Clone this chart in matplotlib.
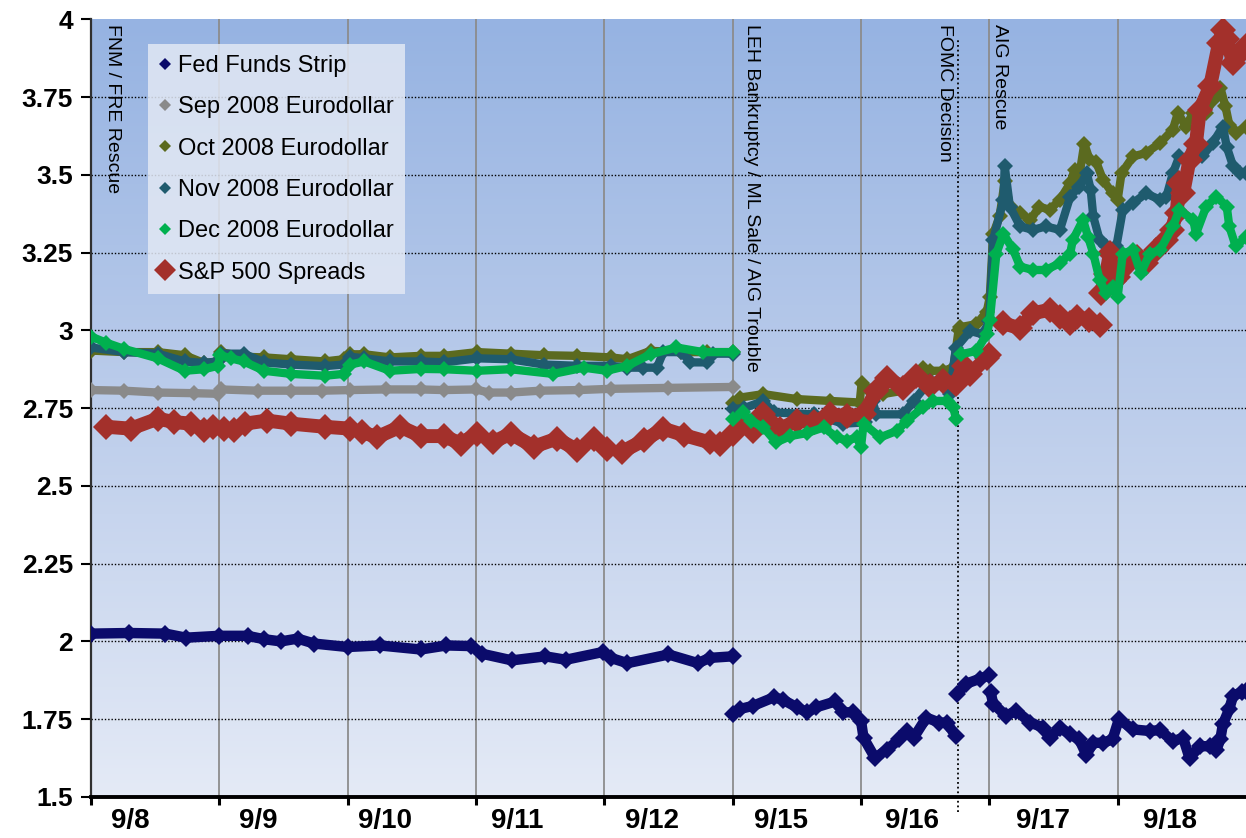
import numpy as np
import matplotlib
matplotlib.use("Agg")
import matplotlib.pyplot as plt
from matplotlib.colors import LinearSegmentedColormap
from matplotlib.lines import Line2D

nan = np.nan

# ---------------- data (x in trading days from 9/8 open) ----------------
day_labels = ["9/8", "9/9", "9/10", "9/11", "9/12", "9/15", "9/16", "9/17", "9/18"]
label_pos = [0.31, 1.30, 2.29, 3.32, 4.37, 5.38, 6.40, 7.42, 8.41]
y_ticks = [1.5, 1.75, 2.0, 2.25, 2.5, 2.75, 3.0, 3.25, 3.5, 3.75, 4.0]
y_tick_labels = ["1.5", "1.75", "2", "2.25", "2.5", "2.75", "3", "3.25", "3.5", "3.75", "4"]

ff_x = [0.0, 0.3, 0.58, 0.74, 1.0, 1.22, 1.35, 1.48, 1.61, 1.74, 2.0, 2.25, 2.57, 2.77, 2.96,
        3.05, 3.28, 3.54, 3.7, 3.99, 4.05, 4.18, 4.5, 4.73, 4.82, 5.0, nan,
        5.006, 5.06, 5.16, 5.32, 5.39, 5.50, 5.58, 5.65, 5.80, 5.86, 5.94, 6.0, 6.02, 6.11, 6.20,
        6.30, 6.356, 6.41, 6.51, 6.61, 6.667, 6.74, nan,
        6.75, 6.82, 6.926, 7.0, nan,
        7.01, 7.03, 7.13, 7.21, 7.32, 7.42, 7.47, 7.55, 7.63, 7.70, 7.756, 7.81, 7.886, 7.96,
        8.01, 8.12, 8.25, 8.33, 8.43, 8.51, 8.56, 8.64, 8.72, 8.77, 8.80, 8.82, 8.87, 8.90, 8.97, 9.0]
ff_y = [2.025, 2.027, 2.025, 2.012, 2.018, 2.018, 2.007, 2.0, 2.009, 1.993, 1.982, 1.987, 1.974, 1.987, 1.985,
        1.96, 1.939, 1.952, 1.941, 1.966, 1.947, 1.93, 1.958, 1.93, 1.947, 1.952, nan,
        1.766, 1.783, 1.793, 1.82, 1.813, 1.788, 1.772, 1.788, 1.807, 1.772, 1.772, 1.745, 1.69, 1.625, 1.652,
        1.685, 1.712, 1.69, 1.755, 1.739, 1.739, 1.696, nan,
        1.832, 1.864, 1.88, 1.891, nan,
        1.837, 1.80, 1.761, 1.777, 1.739, 1.723, 1.69, 1.723, 1.701, 1.685, 1.636, 1.674, 1.674, 1.685,
        1.75, 1.717, 1.712, 1.715, 1.679, 1.69, 1.625, 1.663, 1.663, 1.652, 1.685, 1.734, 1.783, 1.826, 1.837, 1.84]

sep_x = [0.0, 0.26, 0.52, 0.8, 0.99, 1.01, 1.3, 1.56, 1.8, 2.02, 2.3, 2.57, 2.75, 3.0, 3.1, 3.27,
         3.5, 3.8, 4.05, 4.5, 5.0]
sep_y = [2.808, 2.806, 2.80, 2.798, 2.796, 2.81, 2.806, 2.806, 2.806, 2.808, 2.81, 2.81, 2.808, 2.81, 2.80, 2.80,
         2.806, 2.808, 2.812, 2.815, 2.818]

oct_x = [0.0, 0.26, 0.52, 0.73, 0.88, 0.99, 1.01, 1.19, 1.35, 1.56, 1.82, 1.97, 2.02, 2.13, 2.33, 2.57,
         2.75, 3.01, 3.27, 3.53, 3.79, 4.05, 4.18, 4.36, 4.6, 4.8, 5.0, nan,
         5.0, 5.06, 5.24, 5.5, 5.76, 5.99, 6.005, 6.07, 6.17, 6.33, 6.48, 6.54, 6.64, 6.72, 6.76, 6.77,
         6.9, 6.98, 7.004, 7.03, 7.08, 7.12, 7.16, 7.24, 7.32, 7.39, 7.47, 7.55, 7.63, 7.665, 7.70, 7.74,
         7.78, 7.834, 7.886, 7.96, 8.0, 8.03, 8.12, 8.22, 8.33, 8.43, 8.47, 8.53, 8.59, 8.69, 8.74, 8.8,
         8.84, 8.87, 8.92, 9.0]
oct_y = [2.935, 2.93, 2.93, 2.92, 2.895, 2.90, 2.93, 2.915, 2.913, 2.907, 2.90, 2.907, 2.923, 2.923, 2.913, 2.918,
         2.918, 2.93, 2.925, 2.92, 2.918, 2.913, 2.907, 2.934, 2.93, 2.93, 2.93, nan,
         2.768, 2.784, 2.795, 2.779, 2.773, 2.768, 2.83, 2.806, 2.795, 2.806, 2.88, 2.87, 2.87, 2.88, 3.0, 3.01,
         3.02, 3.06, 3.108, 3.31, 3.366, 3.48, 3.40, 3.377, 3.355, 3.398, 3.387, 3.42, 3.473, 3.516, 3.494, 3.60,
         3.55, 3.54, 3.484, 3.44, 3.42, 3.505, 3.559, 3.57, 3.602, 3.645, 3.70, 3.655, 3.70, 3.70, 3.74, 3.78,
         3.72, 3.66, 3.634, 3.655]

nov_x = [0.0, 0.26, 0.52, 0.73, 0.88, 0.99, 1.01, 1.19, 1.35, 1.56, 1.82, 1.97, 2.02, 2.13, 2.33, 2.57,
         2.75, 3.01, 3.27, 3.53, 3.79, 4.05, 4.18, 4.3, 4.41, 4.46, 4.6, 4.67, 4.8, 4.85, 5.0, nan,
         5.0, 5.09, 5.24, 5.32, 5.63, 5.86, 6.03, 6.09, 6.12, 6.33, 6.41, 6.54, 6.64, 6.69, 6.74, 6.85,
         6.95, 7.0, 7.03, 7.11, 7.12, 7.16, 7.24, 7.34, 7.44, 7.55, 7.63, 7.70, 7.76, 7.79, 7.81, 7.86,
         7.91, 7.99, 8.04, 8.12, 8.22, 8.33, 8.38, 8.43, 8.48, 8.59, 8.66, 8.74, 8.82, 8.85, 8.90, 8.95, 9.0]
nov_y = [2.945, 2.93, 2.925, 2.90, 2.895, 2.90, 2.925, 2.925, 2.897, 2.89, 2.885, 2.89, 2.915, 2.91, 2.90, 2.90,
         2.897, 2.91, 2.907, 2.89, 2.886, 2.886, 2.88, 2.88, 2.88, 2.93, 2.93, 2.897, 2.897, 2.925, 2.925, nan,
         2.747, 2.75, 2.773, 2.736, 2.73, 2.70, 2.704, 2.773, 2.73, 2.73, 2.773, 2.838, 2.838, 2.795, 2.944, 2.998,
         2.987, 3.03, 3.29, 3.42, 3.527, 3.398, 3.334, 3.323, 3.334, 3.323, 3.43, 3.462, 3.505, 3.452, 3.366, 3.29,
         3.27, 3.27, 3.387, 3.409, 3.44, 3.42, 3.43, 3.505, 3.559, 3.548, 3.56, 3.602, 3.655, 3.59, 3.527, 3.505, 3.505]

dec_x = [0.0, 0.12, 0.26, 0.52, 0.73, 0.88, 0.99, 1.006, 1.09, 1.19, 1.35, 1.56, 1.82, 1.97, 2.02, 2.13,
         2.33, 2.57, 2.75, 3.01, 3.27, 3.6, 3.84, 4.02, 4.18, 4.36, 4.56, 4.77, 5.0, nan,
         5.0, 5.08, 5.14, 5.24, 5.34, 5.45, 5.58, 5.71, 5.81, 5.89, 5.97, 6.0, 6.02, 6.15, 6.28, 6.36,
         6.48, 6.56, 6.67, 6.72, 6.74, nan,
         6.78, 6.90, 6.98, 7.004, 7.055, 7.11, 7.185, 7.24, 7.34, 7.44, 7.55, 7.63, 7.65, 7.73, 7.77, 7.81,
         7.86, 7.91, 7.96, 8.0, 8.04, 8.12, 8.18, 8.25, 8.33, 8.43, 8.48, 8.59, 8.61, 8.69, 8.77, 8.85,
         8.87, 8.92, 9.0]
dec_y = [2.98, 2.96, 2.94, 2.91, 2.87, 2.875, 2.886, 2.92, 2.91, 2.90, 2.87, 2.86, 2.854, 2.86, 2.89, 2.90,
         2.87, 2.876, 2.875, 2.87, 2.875, 2.86, 2.88, 2.87, 2.886, 2.923, 2.945, 2.93, 2.93, nan,
         2.715, 2.736, 2.71, 2.688, 2.64, 2.66, 2.67, 2.688, 2.656, 2.645, 2.656, 2.624, 2.70, 2.656, 2.677, 2.71,
         2.752, 2.773, 2.773, 2.752, 2.715, nan,
         2.923, 2.934, 2.987, 3.033, 3.247, 3.31, 3.26, 3.205, 3.194, 3.194, 3.216, 3.247, 3.29, 3.355, 3.30, 3.247,
         3.162, 3.119, 3.14, 3.108, 3.247, 3.258, 3.183, 3.247, 3.258, 3.334, 3.387, 3.355, 3.31, 3.398, 3.43, 3.398,
         3.334, 3.27, 3.30]

spx_x = [0.117, 0.31, 0.52, 0.65, 0.78, 0.88, 0.95, 1.04, nan,
         1.115, 1.2, 1.37, 1.56, 1.82, 2.02, nan,
         2.11, 2.23, 2.41, 2.57, 2.75, 2.88, 3.01, nan,
         3.13, 3.27, 3.45, 3.63, 3.79, 3.92, 4.02, nan,
         4.14, 4.31, 4.46, 4.62, 4.82, 4.9, 5.0, 5.08, 5.16, 5.24, 5.37, 5.50, 5.63, 5.76, 5.89, 6.02,
         6.12, 6.20, 6.33, 6.43, 6.54, 6.64, 6.74, 6.80, 6.85, 6.98, 7.0, nan,
         7.11, 7.24, 7.34, 7.47, 7.55, 7.63, 7.68, 7.78, 7.86, nan,
         7.87, 7.91, 7.94, 7.97, 8.0, 8.15, 8.22, 8.30, 8.38, 8.42, 8.46, 8.48, 8.51, 8.56, 8.61, 8.64,
         8.72, 8.79, 8.82, 8.85, 8.90, 8.95, 9.0]
spx_y = [2.69, 2.684, 2.716, 2.705, 2.70, 2.68, 2.69, 2.684, nan,
         2.68, 2.70, 2.71, 2.70, 2.69, 2.684, nan,
         2.673, 2.657, 2.69, 2.66, 2.66, 2.636, 2.668, nan,
         2.64, 2.668, 2.626, 2.652, 2.615, 2.652, 2.62, nan,
         2.61, 2.647, 2.684, 2.663, 2.64, 2.635, 2.667, 2.71, 2.677, 2.73, 2.683, 2.71, 2.704, 2.73, 2.725, 2.73,
         2.806, 2.848, 2.816, 2.854, 2.82, 2.838, 2.828, 2.886, 2.86, 2.912, 2.92, nan,
         3.023, 3.006, 3.055, 3.066, 3.044, 3.023, 3.044, 3.033, 3.017, nan,
         3.12, 3.18, 3.248, 3.16, 3.17, 3.237, 3.216, 3.258, 3.29, 3.323, 3.377, 3.473, 3.44, 3.548, 3.60, 3.709,
         3.784, 3.924, 3.967, 3.935, 3.86, 3.89, 3.913]

series = [
    ("Fed Funds Strip", ff_x, ff_y, "#0b0b6b"),
    ("Sep 2008 Eurodollar", sep_x, sep_y, "#8a8a8a"),
    ("Oct 2008 Eurodollar", oct_x, oct_y, "#5b6a1f"),
    ("Nov 2008 Eurodollar", nov_x, nov_y, "#1f5b6e"),
    ("Dec 2008 Eurodollar", dec_x, dec_y, "#00b04f"),
    ("S&P 500 Spreads", spx_x, spx_y, "#a3302b"),
]

events = [
    (0.17, "FNM / FRE Rescue"),
    (5.15, "LEH Bankruptcy / ML Sale / AIG Trouble"),
    (6.65, "FOMC Decision"),
    (7.08, "AIG Rescue"),
]
fomc_x = 6.755

# ---------------- figure ----------------
plt.rcParams['font.family'] = ['Liberation Sans', 'DejaVu Sans']
fig = plt.figure(figsize=(12.46, 8.38), dpi=100)
ax = fig.add_axes([0.073, 0.049, 0.927, 0.928])
ax.set_xlim(0, 9)
ax.set_ylim(1.5, 4.0)

cmap = LinearSegmentedColormap.from_list("bg", ["#e4eaf6", "#bccdeb", "#96b3e2"])
grad = np.linspace(0, 1, 256).reshape(-1, 1)
ax.imshow(grad, extent=[0, 9, 1.5, 4.0], origin="lower", aspect="auto", cmap=cmap,
          zorder=0, interpolation="bicubic")

for d in range(1, 9):
    ax.axvline(d, color="#8c8c8c", lw=1.3, zorder=1)
for yv in y_ticks[1:-1]:
    ax.axhline(yv, color="black", lw=1.0, ls=(0, (1, 1.4)), zorder=1)
ax.plot([fomc_x, fomc_x], [1.452, 3.94], color="black", lw=1.3, ls=(0, (1, 1.6)),
        zorder=1, clip_on=False)

styles = {0: (7.5, 9.5), 1: (6.0, 8.0), 2: (6.0, 8.0), 3: (6.0, 8.0), 4: (6.0, 8.0), 5: (10.0, 13.0)}
draw_order = [1, 2, 3, 5, 4, 0]
for i in draw_order:
    name, xs, ys, col = series[i]
    lw, ms = styles[i]
    ax.plot(xs, ys, color=col, lw=lw, solid_capstyle="round",
            solid_joinstyle="round", zorder=3)
    ax.plot(xs, ys, ls="none", marker="D", ms=ms, mew=0, color=col, zorder=3)

for xe, txt in events:
    ax.text(xe, 3.985, txt, rotation=270, ha="center", va="top", fontsize=14,
            color="black", zorder=5)

handles = []
for i, (name, xs, ys, col) in enumerate(series):
    handles.append(Line2D([], [], ls="none", marker="D", color=col, mew=0,
                          ms=11 if i == 5 else 6, label=name))
leg = ax.legend(handles=handles, loc="upper left", bbox_to_anchor=(0.049, 0.968),
                borderaxespad=0, fontsize=17, frameon=True, fancybox=False,
                handlelength=0.6, handletextpad=0.25, labelspacing=0.82, borderpad=0.45)
leg.get_frame().set_facecolor("#e2e8f4")
leg.get_frame().set_alpha(0.85)
leg.get_frame().set_edgecolor("none")
leg.set_zorder(6)

# axes styling
for s in ["top", "right"]:
    ax.spines[s].set_visible(False)
ax.spines["bottom"].set_linewidth(2.8)
ax.spines["bottom"].set_color("black")
ax.spines["left"].set_linewidth(1.6)
ax.spines["left"].set_color("#303030")

ax.set_yticks(y_ticks)
ax.set_yticklabels(y_tick_labels, fontsize=19, fontweight="bold")
ax.tick_params(axis="y", direction="out", length=7, width=1.5, pad=6)

ax.set_xticks(range(0, 9))
ax.set_xticklabels([""] * 9)
ax.tick_params(axis="x", which="major", direction="out", length=6, width=2.2)
ax.set_xticks(label_pos, minor=True)
ax.set_xticklabels(day_labels, minor=True, fontsize=20, fontweight="bold")
ax.tick_params(axis="x", which="minor", length=0, pad=8)

fig.savefig("out.png", dpi=100)
